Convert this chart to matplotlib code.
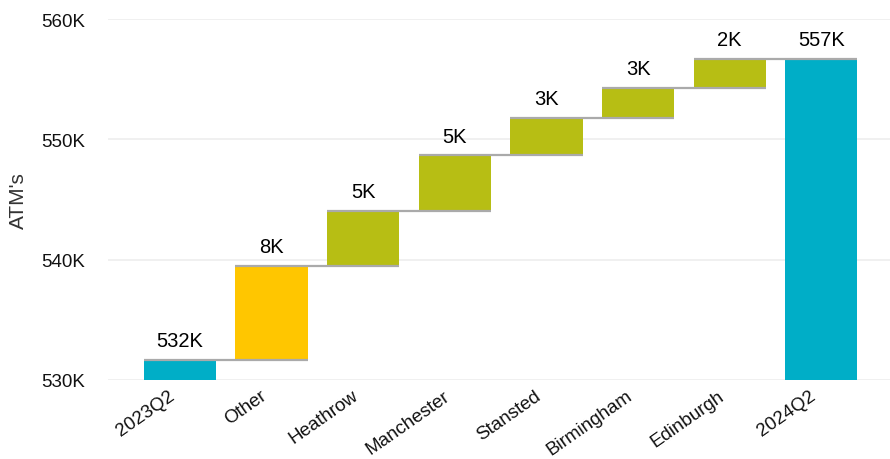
import numpy as np
import matplotlib.pyplot as plt
import matplotlib.transforms as mtransforms

# data (thousands of ATMs)
categories = ['2023Q2', 'Other', 'Heathrow', 'Manchester', 'Stansted',
              'Birmingham', 'Edinburgh', '2024Q2']
start_total = 531.67
changes = [7.79, 4.61, 4.61, 3.09, 2.52, 2.44]
end_total = 556.73
labels = ['532K', '8K', '5K', '5K', '3K', '3K', '2K', '557K']

teal = '#00AEC7'
gold = '#FFC600'
green = '#B7BE14'
colors = [teal, gold, green, green, green, green, green, teal]

plt.rcParams['font.family'] = ['Liberation Sans', 'DejaVu Sans']

# bottoms / tops of the floating bars
tops = [start_total]
for c in changes:
    tops.append(tops[-1] + c)
tops.append(end_total)
bottoms = [0] + tops[:-2] + [0]
heights = [t - b for t, b in zip(tops, bottoms)]

fig = plt.figure(figsize=(8.9, 4.6), dpi=100)
ax = fig.add_axes([0.121, 0.172, 0.879, 0.784])

x = np.arange(len(categories))
w = 0.79
ax.bar(x, heights, bottom=bottoms, width=w, color=colors, zorder=2)

# connector lines: from left edge of bar i to right edge of bar i+1
for i in range(len(categories) - 1):
    ax.plot([x[i] - w / 2, x[i + 1] + w / 2], [tops[i], tops[i]],
            color='#AAAAAA', lw=1.6, zorder=3, solid_capstyle='butt')

for i, lab in enumerate(labels):
    ax.annotate(lab, (x[i], tops[i]), xytext=(0, 7), textcoords='offset points',
                ha='center', va='bottom', fontsize=14.5, color='black')

ax.set_ylim(530, 560)
ax.set_xlim(-0.79, 7.75)
ax.set_yticks([530, 540, 550, 560])
ax.set_yticklabels(['530K', '540K', '550K', '560K'])
ax.set_xticks(x)
ax.set_xticklabels(categories, rotation=35, ha='right', rotation_mode='anchor')
ax.tick_params(axis='both', length=0, labelsize=13.5, colors='#111111')
ax.tick_params(axis='y', pad=16)
ax.tick_params(axis='x', pad=5)
shift = mtransforms.ScaledTranslation(-12 / 100, 0, fig.dpi_scale_trans)
for t in ax.get_xticklabels():
    t.set_transform(t.get_transform() + shift)
ax.grid(axis='y', color='#EEEEEE', lw=1.2, zorder=0)
ax.set_axisbelow(True)
for s in ax.spines.values():
    s.set_visible(False)
ax.set_ylabel("ATM's", fontsize=15, color='#333333', labelpad=10)

fig.savefig('out.png')
